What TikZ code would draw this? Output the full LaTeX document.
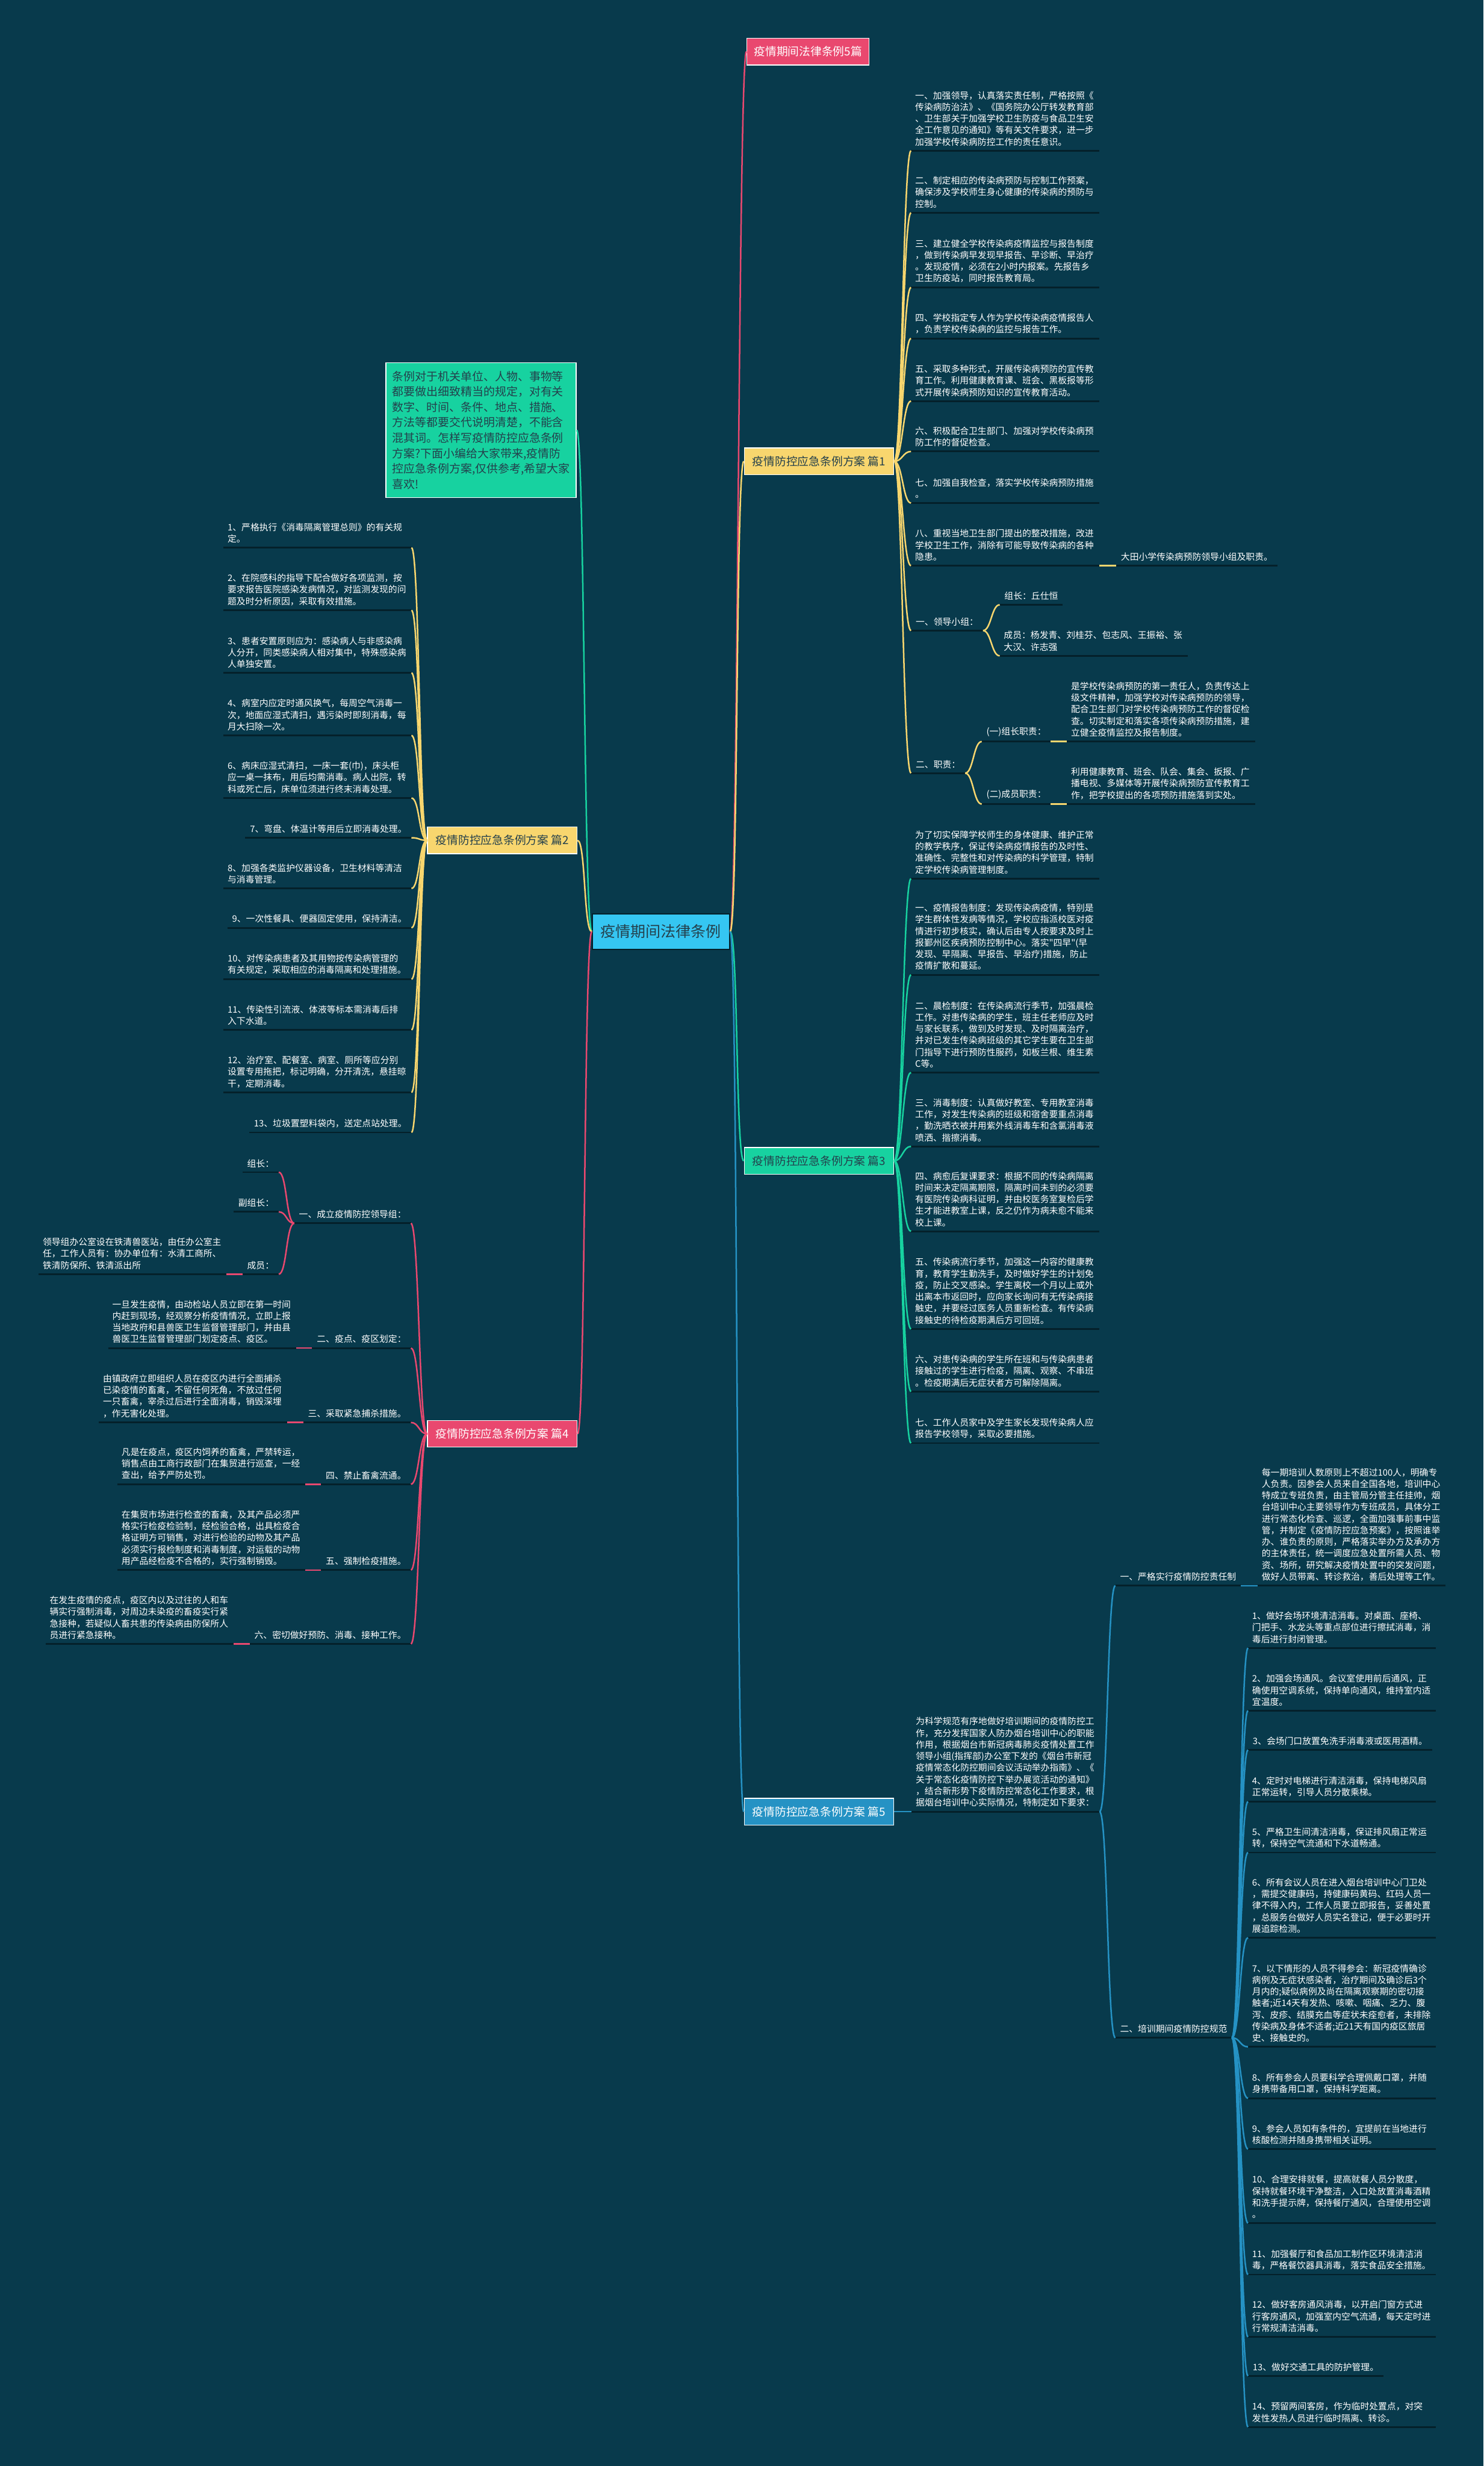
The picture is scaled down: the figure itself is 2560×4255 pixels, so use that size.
\documentclass[tikz,border=0pt]{standalone}
\usepackage{fontspec}
\newfontfamily\cjk{Noto Sans CJK SC}
\definecolor{bgcol}{HTML}{083A4C}
\definecolor{ulcol}{HTML}{04202A}
\definecolor{ylw}{HTML}{F8D66E}
\definecolor{grn}{HTML}{17D2A0}
\definecolor{pnk}{HTML}{E9486F}
\definecolor{blu}{HTML}{2592C4}
\definecolor{cyn}{HTML}{35C6F2}
\definecolor{dtext}{HTML}{24404C}

\tikzset{
  leaf/.style={font=\fontsize{15.4}{20}\selectfont\cjk, text=white, align=left,
    inner xsep=8pt, inner ysep=8pt,
    append after command={(\tikzlastnode.south west) edge[uline] (\tikzlastnode.south east)}},
  wide/.style={text width=310pt, inner xsep=7pt},
  rleaf/.style={leaf, anchor=south west},
  lleaf/.style={leaf, anchor=south east},
  topic/.style={draw=white, line width=1.5pt, font=\fontsize{19.5}{24}\selectfont\cjk,
    minimum height=46pt, minimum width=258pt, inner xsep=12pt},
  uline/.style={draw=ulcol, line width=3pt},
  link/.style={line width=2.6pt},
  rlink/.style={to path={.. controls +(14,0) and +(-14,0) .. (\tikztotarget)}},
  llink/.style={to path={.. controls +(-14,0) and +(14,0) .. (\tikztotarget)}},
}

\begin{document}
\begin{tikzpicture}[x=1pt, y=-1pt]
    \fill[bgcol] (0,0) rectangle (2560,4255);
    % Define the topics
    \node[topic, draw=ulcol, fill=cyn, text=dtext, font=\fontsize{26}{30}\selectfont\cjk,
      minimum width=237pt, minimum height=61pt] (root) at (1140.5,1607.5) {疫情期间法律条例};
    \node[topic, fill=pnk, text=white, anchor=west, minimum width=211pt]
      (ttl) at (1288,89) {疫情期间法律条例5篇};
    \node[topic, fill=ylw, text=dtext, anchor=east] (p1) at (1543,796) {疫情防控应急条例方案 篇1};
    \node[topic, fill=ylw, text=dtext, anchor=west] (p2) at (737,1450) {疫情防控应急条例方案 篇2};
    \node[topic, fill=grn, text=dtext, anchor=east] (p3) at (1543,2003) {疫情防控应急条例方案 篇3};
    \node[topic, fill=pnk, text=white, anchor=west] (p4) at (737,2474) {疫情防控应急条例方案 篇4};
    \node[topic, fill=blu, text=white, anchor=east] (p5) at (1543,3126) {疫情防控应急条例方案 篇5};
    \node[topic, fill=grn, text=dtext, anchor=north west, align=left, inner xsep=11pt,
      font=\fontsize{19.7}{26.6}\selectfont\cjk, minimum width=328pt, minimum height=233pt]
      (desc) at (665,625) {条例对于机关单位、人物、事物等\\都要做出细致精当的规定，对有关\\数字、时间、条件、地点、措施、\\方法等都要交代说明清楚，不能含\\混其词。怎样写疫情防控应急条例\\方案?下面小编给大家带来,疫情防\\控应急条例方案,仅供参考,希望大家\\喜欢!};

    % Define the items of part 1
    \node[rleaf, wide] (a1) at (1572,260) {一、加强领导，认真落实责任制，严格按照《\\传染病防治法》、《国务院办公厅转发教育部\\、卫生部关于加强学校卫生防疫与食品卫生安\\全工作意见的通知》等有关文件要求，进一步\\加强学校传染病防控工作的责任意识。};
    \node[rleaf, wide] (a2) at (1572,367) {二、制定相应的传染病预防与控制工作预案，\\确保涉及学校师生身心健康的传染病的预防与\\控制。};
    \node[rleaf, wide] (a3) at (1572,496) {三、建立健全学校传染病疫情监控与报告制度\\，做到传染病早发现早报告、早诊断、早治疗\\。发现疫情，必须在2小时内报案。先报告乡\\卫生防疫站，同时报告教育局。};
    \node[rleaf, wide] (a4) at (1572,584) {四、学校指定专人作为学校传染病疫情报告人\\，负责学校传染病的监控与报告工作。};
    \node[rleaf, wide] (a5) at (1572,692) {五、采取多种形式，开展传染病预防的宣传教\\育工作。利用健康教育课、班会、黑板报等形\\式开展传染病预防知识的宣传教育活动。};
    \node[rleaf, wide] (a6) at (1572,779) {六、积极配合卫生部门、加强对学校传染病预\\防工作的督促检查。};
    \node[rleaf, wide] (a7) at (1572,868) {七、加强自我检查，落实学校传染病预防措施\\。};
    \node[rleaf, wide] (a8) at (1572,976) {八、重视当地卫生部门提出的整改措施，改进\\学校卫生工作，消除有可能导致传染病的各种\\隐患。};
    \node[rleaf] (a81) at (1926,976) {大田小学传染病预防领导小组及职责。};
    \node[rleaf] (a9) at (1572,1088) {一、领导小组：};
    \node[rleaf] (a91) at (1725,1043.5) {组长：丘仕恒};
    \node[rleaf, wide] (a92) at (1725,1131.6) {成员：杨发青、刘桂芬、包志风、王振裕、张\\大汉、许志强};
    \node[rleaf] (a10) at (1572,1334) {二、职责：};
    \node[rleaf] (a101) at (1694,1279.5) {(一)组长职责：};
    \node[rleaf] (a102) at (1694,1387.4) {(二)成员职责：};
    \node[rleaf, wide] (a103) at (1841,1279.5) {是学校传染病预防的第一责任人，负责传达上\\级文件精神，加强学校对传染病预防的领导，\\配合卫生部门对学校传染病预防工作的督促检\\查。切实制定和落实各项传染病预防措施，建\\立健全疫情监控及报告制度。};
    \node[rleaf, wide] (a104) at (1841,1387.4) {利用健康教育、班会、队会、集会、扳报、广\\播电视、多媒体等开展传染病预防宣传教育工\\作，把学校提出的各项预防措施落到实处。};

    % Define the items of part 2
    \node[lleaf, wide] (e1) at (710,945) {1、严格执行《消毒隔离管理总则》的有关规\\定。};
    \node[lleaf, wide] (e2) at (710,1053) {2、在院感科的指导下配合做好各项监测，按\\要求报告医院感染发病情况，对监测发现的问\\题及时分析原因，采取有效措施。};
    \node[lleaf, wide] (e3) at (710,1161) {3、患者安置原则应为：感染病人与非感染病\\人分开，同类感染病人相对集中，特殊感染病\\人单独安置。};
    \node[lleaf, wide] (e4) at (710,1269) {4、病室内应定时通风换气，每周空气消毒一\\次，地面应湿式清扫，遇污染时即刻消毒，每\\月大扫除一次。};
    \node[lleaf, wide] (e6) at (710,1377) {6、病床应湿式清扫，一床一套(巾)，床头柜\\应一桌一抹布，用后均需消毒。病人出院，转\\科或死亡后，床单位须进行终末消毒处理。};
    \node[lleaf] (e7) at (710,1445.5) {7、弯盘、体温计等用后立即消毒处理。};
    \node[lleaf, wide] (e8) at (710,1533) {8、加强各类监护仪器设备，卫生材料等清洁\\与消毒管理。};
    \node[lleaf] (e9) at (710,1601) {9、一次性餐具、便器固定使用，保持清洁。};
    \node[lleaf, wide] (e10) at (710,1689.5) {10、对传染病患者及其用物按传染病管理的\\有关规定，采取相应的消毒隔离和处理措施。};
    \node[lleaf, wide] (e11) at (710,1777) {11、传染性引流液、体液等标本需消毒后排\\入下水道。};
    \node[lleaf, wide] (e12) at (710,1885) {12、治疗室、配餐室、病室、厕所等应分别\\设置专用拖把，标记明确，分开清洗，悬挂晾\\干，定期消毒。};
    \node[lleaf] (e13) at (710,1954) {13、垃圾置塑料袋内，送定点站处理。};

    % Define the items of part 3
    \node[rleaf, wide] (b0) at (1572,1516) {为了切实保障学校师生的身体健康、维护正常\\的教学秩序，保证传染病疫情报告的及时性、\\准确性、完整性和对传染病的科学管理，特制\\定学校传染病管理制度。};
    \node[rleaf, wide] (b1) at (1572,1682) {一、疫情报告制度：发现传染病疫情，特别是\\学生群体性发病等情况，学校应指派校医对疫\\情进行初步核实，确认后由专人按要求及时上\\报鄞州区疾病预防控制中心。落实"四早"(早\\发现、早隔离、早报告、早治疗)措施，防止\\疫情扩散和蔓延。};
    \node[rleaf, wide] (b2) at (1572,1850.5) {二、晨检制度：在传染病流行季节，加强晨检\\工作。对患传染病的学生，班主任老师应及时\\与家长联系，做到及时发现、及时隔离治疗，\\并对已发生传染病班级的其它学生要在卫生部\\门指导下进行预防性服药，如板兰根、维生素\\C等。};
    \node[rleaf, wide] (b3) at (1572,1978) {三、消毒制度：认真做好教室、专用教室消毒\\工作，对发生传染病的班级和宿舍要重点消毒\\，勤洗晒衣被并用紫外线消毒车和含氯消毒液\\喷洒、揩擦消毒。};
    \node[rleaf, wide] (b4) at (1572,2124.5) {四、病愈后复课要求：根据不同的传染病隔离\\时间来决定隔离期限，隔离时间未到的必须要\\有医院传染病科证明，并由校医务室复检后学\\生才能进教室上课，反之仍作为病未愈不能来\\校上课。};
    \node[rleaf, wide] (b5) at (1572,2293) {五、传染病流行季节，加强这一内容的健康教\\育，教育学生勤洗手，及时做好学生的计划免\\疫，防止交叉感染。学生离校一个月以上或外\\出离本市返回时，应向家长询问有无传染病接\\触史，并要经过医务人员重新检查。有传染病\\接触史的待检疫期满后方可回班。};
    \node[rleaf, wide] (b6) at (1572,2401) {六、对患传染病的学生所在班和与传染病患者\\接触过的学生进行检疫，隔离、观察、不串班\\。检疫期满后无症状者方可解除隔离。};
    \node[rleaf, wide] (b7) at (1572,2490) {七、工作人员家中及学生家长发现传染病人应\\报告学校领导，采取必要措施。};

    % Define the items of part 4
    \node[lleaf] (f1) at (709,2110.7) {一、成立疫情防控领导组：};
    \node[lleaf] (f11) at (481,2022.6) {组长：};
    \node[lleaf] (f12) at (481,2091) {副组长：};
    \node[lleaf] (f13) at (481,2198.5) {成员：};
    \node[lleaf, wide] (f131) at (391,2198.5) {领导组办公室设在铁清兽医站，由任办公室主\\任，工作人员有：协办单位有：水清工商所、\\铁清防保所、铁清派出所};
    \node[lleaf] (f2) at (709,2326) {二、疫点、疫区划定：};
    \node[lleaf, wide] (f21) at (511,2326) {一旦发生疫情，由动检站人员立即在第一时间\\内赶到现场，经观察分析疫情情况，立即上报\\当地政府和县兽医卫生监督管理部门，并由县\\兽医卫生监督管理部门划定疫点、疫区。};
    \node[lleaf] (f3) at (709,2454.4) {三、采取紧急捕杀措施。};
    \node[lleaf, wide] (f31) at (495,2454.4) {由镇政府立即组织人员在疫区内进行全面捕杀\\已染疫情的畜禽，不留任何死角，不放过任何\\一只畜禽，宰杀过后进行全面消毒，销毁深埋\\，作无害化处理。};
    \node[lleaf] (f4) at (709,2561) {四、禁止畜禽流通。};
    \node[lleaf, wide] (f41) at (527,2561) {凡是在疫点，疫区内饲养的畜禽，严禁转运，\\销售点由工商行政部门在集贸进行巡查，一经\\查出，给予严防处罚。};
    \node[lleaf] (f5) at (709,2709) {五、强制检疫措施。};
    \node[lleaf, wide] (f51) at (527,2709) {在集贸市场进行检查的畜禽，及其产品必须严\\格实行检疫检验制，经检验合格，出具检疫合\\格证明方可销售，对进行检验的动物及其产品\\必须实行报检制度和消毒制度，对运载的动物\\用产品经检疫不合格的，实行强制销毁。};
    \node[lleaf] (f6) at (709,2836.5) {六、密切做好预防、消毒、接种工作。};
    \node[lleaf, wide] (f61) at (403,2836.5) {在发生疫情的疫点，疫区内以及过往的人和车\\辆实行强制消毒，对周边未染疫的畜疫实行紧\\急接种，若疑似人畜共患的传染病由防保所人\\员进行紧急接种。};

    % Define the items of part 5
    \node[rleaf, wide] (c0) at (1573,3126) {为科学规范有序地做好培训期间的疫情防控工\\作，充分发挥国家人防办烟台培训中心的职能\\作用，根据烟台市新冠病毒肺炎疫情处置工作\\领导小组(指挥部)办公室下发的《烟台市新冠\\疫情常态化防控期间会议活动举办指南》、《\\关于常态化疫情防控下举办展览活动的通知》\\，结合新形势下疫情防控常态化工作要求，根\\据烟台培训中心实际情况，特制定如下要求：};
    \node[rleaf] (c1) at (1924.5,2736) {一、严格实行疫情防控责任制};
    \node[rleaf, wide] (c11) at (2170,2736) {每一期培训人数原则上不超过100人，明确专\\人负责。因参会人员来自全国各地，培训中心\\特成立专班负责，由主管局分管主任挂帅，烟\\台培训中心主要领导作为专班成员，具体分工\\进行常态化检查、巡逻，全面加强事前事中监\\管，并制定《疫情防控应急预案》，按照谁举\\办、谁负责的原则，严格落实举办方及承办方\\的主体责任，统一调度应急处置所需人员、物\\资、场所，研究解决疫情处置中的突发问题，\\做好人员带离、转诊救治，善后处理等工作。};
    \node[rleaf] (c2) at (1924.5,3516) {二、培训期间疫情防控规范};
    \node[rleaf, wide] (d1) at (2153.5,2843.5) {1、做好会场环境清洁消毒。对桌面、座椅、\\门把手、水龙头等重点部位进行擦拭消毒，消\\毒后进行封闭管理。};
    \node[rleaf, wide] (d2) at (2153.5,2951.6) {2、加强会场通风。会议室使用前后通风，正\\确使用空调系统，保持单向通风，维持室内适\\宜温度。};
    \node[rleaf] (d3) at (2153.5,3019.5) {3、会场门口放置免洗手消毒液或医用酒精。};
    \node[rleaf, wide] (d4) at (2153.5,3108.6) {4、定时对电梯进行清洁消毒，保持电梯风扇\\正常运转，引导人员分散乘梯。};
    \node[rleaf, wide] (d5) at (2153.5,3196.4) {5、严格卫生间清洁消毒，保证排风扇正常运\\转，保持空气流通和下水道畅通。};
    \node[rleaf, wide] (d6) at (2153.5,3343.3) {6、所有会议人员在进入烟台培训中心门卫处\\，需提交健康码，持健康码黄码、红码人员一\\律不得入内，工作人员要立即报告，妥善处置\\，总服务台做好人员实名登记，便于必要时开\\展追踪检测。};
    \node[rleaf, wide] (d7) at (2153.5,3531.7) {7、以下情形的人员不得参会：新冠疫情确诊\\病例及无症状感染者，治疗期间及确诊后3个\\月内的;疑似病例及尚在隔离观察期的密切接\\触者;近14天有发热、咳嗽、咽痛、乏力、腹\\泻、皮疹、结膜充血等症状未痊愈者，未排除\\传染病及身体不适者;近21天有国内疫区旅居\\史、接触史的。};
    \node[rleaf, wide] (d8) at (2153.5,3620.5) {8、所有参会人员要科学合理佩戴口罩，并随\\身携带备用口罩，保持科学距离。};
    \node[rleaf, wide] (d9) at (2153.5,3708) {9、参会人员如有条件的，宜提前在当地进行\\核酸检测并随身携带相关证明。};
    \node[rleaf, wide] (d10) at (2153.5,3835.8) {10、合理安排就餐，提高就餐人员分散度，\\保持就餐环境干净整洁，入口处放置消毒酒精\\和洗手提示牌，保持餐厅通风，合理使用空调\\。};
    \node[rleaf, wide] (d11) at (2153.5,3924.6) {11、加强餐厅和食品加工制作区环境清洁消\\毒，严格餐饮器具消毒，落实食品安全措施。};
    \node[rleaf, wide] (d12) at (2153.5,4032.2) {12、做好客房通风消毒，以开启门窗方式进\\行客房通风，加强室内空气流通，每天定时进\\行常规清洁消毒。};
    \node[rleaf] (d13) at (2153.5,4099.5) {13、做好交通工具的防护管理。};
    \node[rleaf, wide] (d14) at (2153.5,4187.7) {14、预留两间客房，作为临时处置点，对突\\发性发热人员进行临时隔离、转诊。};

    % Define the connectors
    \path[link]
    (root.east) edge[rlink, pnk] (ttl.west)
    (root.east) edge[rlink, ylw] (p1.west)
    (root.east) edge[rlink, grn] (p3.west)
    (root.east) edge[rlink, blu] (p5.west)
    (root.west) edge[llink, grn] (desc.east)
    (root.west) edge[llink, ylw] (p2.east)
    (root.west) edge[llink, pnk] (p4.east);

    \path[link, ylw]
    (p1.east) edge[rlink] (a1.south west)
    (p1.east) edge[rlink] (a2.south west)
    (p1.east) edge[rlink] (a3.south west)
    (p1.east) edge[rlink] (a4.south west)
    (p1.east) edge[rlink] (a5.south west)
    (p1.east) edge[rlink] (a6.south west)
    (p1.east) edge[rlink] (a7.south west)
    (p1.east) edge[rlink] (a8.south west)
    (p1.east) edge[rlink] (a9.south west)
    (p1.east) edge[rlink] (a10.south west)
    (a8.south east) edge[rlink] (a81.south west)
    (a9.south east) edge[rlink] (a91.south west)
    (a9.south east) edge[rlink] (a92.south west)
    (a10.south east) edge[rlink] (a101.south west)
    (a10.south east) edge[rlink] (a102.south west)
    (a101.south east) edge[rlink] (a103.south west)
    (a102.south east) edge[rlink] (a104.south west);

    \path[link, ylw]
    (p2.west) edge[llink] (e1.south east)
    (p2.west) edge[llink] (e2.south east)
    (p2.west) edge[llink] (e3.south east)
    (p2.west) edge[llink] (e4.south east)
    (p2.west) edge[llink] (e6.south east)
    (p2.west) edge[llink] (e7.south east)
    (p2.west) edge[llink] (e8.south east)
    (p2.west) edge[llink] (e9.south east)
    (p2.west) edge[llink] (e10.south east)
    (p2.west) edge[llink] (e11.south east)
    (p2.west) edge[llink] (e12.south east)
    (p2.west) edge[llink] (e13.south east);

    \path[link, grn]
    (p3.east) edge[rlink] (b0.south west)
    (p3.east) edge[rlink] (b1.south west)
    (p3.east) edge[rlink] (b2.south west)
    (p3.east) edge[rlink] (b3.south west)
    (p3.east) edge[rlink] (b4.south west)
    (p3.east) edge[rlink] (b5.south west)
    (p3.east) edge[rlink] (b6.south west)
    (p3.east) edge[rlink] (b7.south west);

    \path[link, pnk]
    (p4.west) edge[llink] (f1.south east)
    (p4.west) edge[llink] (f2.south east)
    (p4.west) edge[llink] (f3.south east)
    (p4.west) edge[llink] (f4.south east)
    (p4.west) edge[llink] (f5.south east)
    (p4.west) edge[llink] (f6.south east)
    (f1.south west) edge[llink] (f11.south east)
    (f1.south west) edge[llink] (f12.south east)
    (f1.south west) edge[llink] (f13.south east)
    (f13.south west) edge[llink] (f131.south east)
    (f2.south west) edge[llink] (f21.south east)
    (f3.south west) edge[llink] (f31.south east)
    (f4.south west) edge[llink] (f41.south east)
    (f5.south west) edge[llink] (f51.south east)
    (f6.south west) edge[llink] (f61.south east);

    \path[link, blu]
    (p5.east) edge[rlink] (c0.south west)
    (c0.south east) edge[rlink] (c1.south west)
    (c0.south east) edge[rlink] (c2.south west)
    (c1.south east) edge[rlink] (c11.south west)
    (c2.south east) edge[rlink] (d1.south west)
    (c2.south east) edge[rlink] (d2.south west)
    (c2.south east) edge[rlink] (d3.south west)
    (c2.south east) edge[rlink] (d4.south west)
    (c2.south east) edge[rlink] (d5.south west)
    (c2.south east) edge[rlink] (d6.south west)
    (c2.south east) edge[rlink] (d7.south west)
    (c2.south east) edge[rlink] (d8.south west)
    (c2.south east) edge[rlink] (d9.south west)
    (c2.south east) edge[rlink] (d10.south west)
    (c2.south east) edge[rlink] (d11.south west)
    (c2.south east) edge[rlink] (d12.south west)
    (c2.south east) edge[rlink] (d13.south west)
    (c2.south east) edge[rlink] (d14.south west);
\end{tikzpicture}
\end{document}
